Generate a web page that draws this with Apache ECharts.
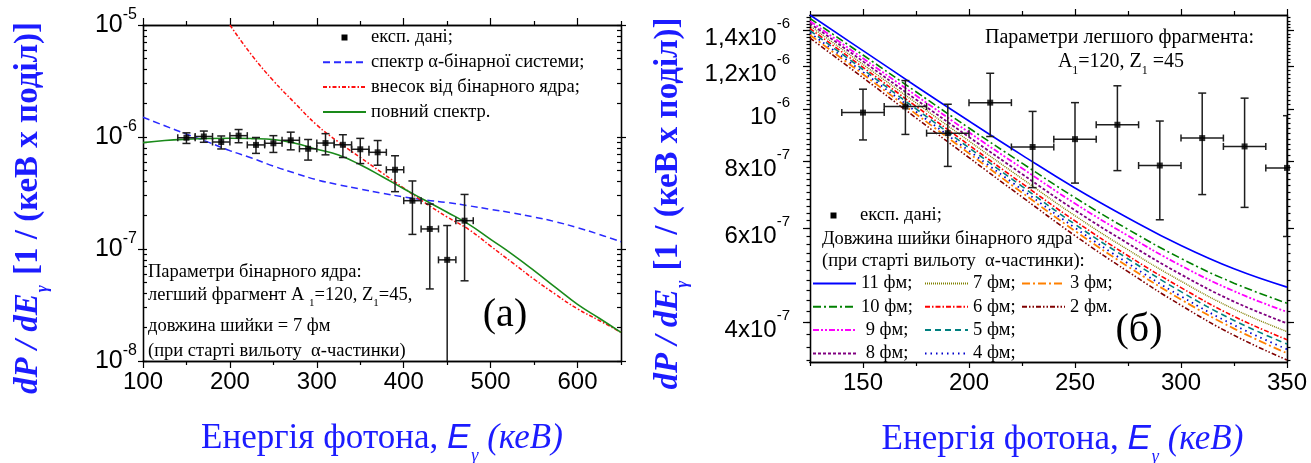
<!DOCTYPE html>
<html>
<head>
<meta charset="utf-8">
<script src="https://cdn.jsdelivr.net/npm/echarts@6/dist/echarts.min.js"></script>
<style>
  html, body { margin: 0; padding: 0; background: #fff; }
  #chart { width: 1311px; height: 463px; }
</style>
</head>
<body>
<div id="chart"></div>
<script>
// ---- measured photon spectrum (shared by both panels) ----
const expEnergy = [150, 170, 190, 210, 230, 250, 270, 290, 310, 330, 350, 370, 390, 410, 430, 450, 470];
const expValue  = [0.985e-6, 1.011e-6, 0.902e-6, 1.028e-6, 0.850e-6, 0.879e-6, 0.935e-6, 0.785e-6, 0.883e-6,
                   0.852e-6, 0.777e-6, 0.73e-6, 0.51e-6, 0.27e-6, 0.151e-6, 0.080e-6, 0.179e-6];
const expUpper  = [1.089e-6, 1.13e-6, 1.021e-6, 1.166e-6, 0.99e-6, 1.028e-6, 1.105e-6, 0.95e-6, 1.071e-6,
                   1.048e-6, 0.972e-6, 0.93e-6, 0.68e-6, 0.405e-6, 0.252e-6, 0.162e-6, 0.307e-6];
const expLower  = [0.876e-6, 0.897e-6, 0.782e-6, 0.889e-6, 0.714e-6, 0.728e-6, 0.768e-6, 0.622e-6, 0.693e-6,
                   0.656e-6, 0.579e-6, 0.56e-6, 0.325e-6, 0.135e-6, 0.044e-6, 0.001e-6, 0.052e-6];
const expHalfBin = 10;

// ---- panel (a): model curves ----
const energyA = [100, 125, 150, 175, 200, 225, 250, 275, 300, 325, 350, 375, 400, 425, 450, 475, 500, 525, 550, 575, 600, 625, 650];
const alphaSystem = [1.5e-6, 1.26e-6, 1.06e-6, 0.90e-6, 0.755e-6, 0.65e-6, 0.55e-6, 0.475e-6, 0.415e-6, 0.375e-6, 0.343e-6, 0.315e-6,
                     0.292e-6, 0.274e-6, 0.26e-6, 0.243e-6, 0.226e-6, 0.21e-6, 0.193e-6, 0.175e-6, 0.155e-6, 0.135e-6, 0.116e-6];
const binaryNucleus = [null, null, null, null, 10e-6, 5.4e-6, 3.18e-6, 2.0e-6, 1.28e-6, 0.9e-6, 0.657e-6, 0.479e-6,
                       0.35e-6, 0.257e-6, 0.193e-6, 0.149e-6, 0.106e-6, 0.0755e-6, 0.0537e-6, 0.0392e-6, 0.0292e-6, 0.023e-6, 0.018e-6];
const fullSpectrum = [0.89e-6, 0.93e-6, 0.955e-6, 0.97e-6, 0.975e-6, 0.968e-6, 0.95e-6, 0.88e-6, 0.778e-6, 0.69e-6, 0.565e-6, 0.444e-6,
                      0.345e-6, 0.271e-6, 0.213e-6, 0.166e-6, 0.122e-6, 0.0897e-6, 0.0642e-6, 0.0452e-6, 0.032e-6, 0.0241e-6, 0.018e-6];

// ---- panel (б): spectra for different neck lengths ----
const energyB = [125, 150, 175, 200, 225, 250, 275, 300, 325, 350];
const neckNames = ['11 фм;', '10 фм;', ' 9 фм;', ' 8 фм;', '7 фм;', '6 фм;', '5 фм;', '4 фм;', '3 фм;', '2 фм.'];
const neck11 = [14.97e-7, 12.85e-7, 11.03e-7, 9.50e-7, 8.21e-7, 7.13e-7, 6.27e-7, 5.57e-7, 5.04e-7, 4.66e-7];
const neck10 = [14.75e-7, 12.61e-7, 10.77e-7, 9.22e-7, 7.93e-7, 6.84e-7, 5.97e-7, 5.27e-7, 4.74e-7, 4.35e-7];
const neck9  = [14.58e-7, 12.43e-7, 10.60e-7, 9.05e-7, 7.76e-7, 6.67e-7, 5.81e-7, 5.11e-7, 4.58e-7, 4.19e-7];
const neck8  = [14.44e-7, 12.27e-7, 10.42e-7, 8.87e-7, 7.57e-7, 6.48e-7, 5.62e-7, 4.92e-7, 4.38e-7, 3.99e-7];
const neck7  = [14.28e-7, 12.11e-7, 10.27e-7, 8.72e-7, 7.42e-7, 6.33e-7, 5.47e-7, 4.78e-7, 4.24e-7, 3.85e-7];
const neck6  = [14.12e-7, 11.96e-7, 10.12e-7, 8.57e-7, 7.27e-7, 6.19e-7, 5.33e-7, 4.65e-7, 4.11e-7, 3.72e-7];
const neck5  = [14.00e-7, 11.85e-7, 10.01e-7, 8.47e-7, 7.18e-7, 6.10e-7, 5.26e-7, 4.57e-7, 4.04e-7, 3.65e-7];
const neck4  = [13.86e-7, 11.72e-7, 9.89e-7, 8.36e-7, 7.08e-7, 6.01e-7, 5.16e-7, 4.48e-7, 3.96e-7, 3.57e-7];
const neck3  = [13.74e-7, 11.61e-7, 9.79e-7, 8.27e-7, 6.99e-7, 5.93e-7, 5.09e-7, 4.42e-7, 3.90e-7, 3.51e-7];
const neck2  = [13.56e-7, 11.44e-7, 9.63e-7, 8.12e-7, 6.86e-7, 5.81e-7, 4.98e-7, 4.31e-7, 3.79e-7, 3.41e-7];
const neckCurves = [neck11, neck10, neck9, neck8, neck7, neck6, neck5, neck4, neck3, neck2];

// ---- tick positions ----
const xTicksA = [100, 200, 300, 400, 500, 600];
const xMinorA = [150, 250, 350, 450, 550, 650];
const xTicksB = [150, 200, 250, 300, 350];
const xMinorB = [125, 175, 225, 275, 325];
const yTicksA = [1e-8, 1e-7, 1e-6, 1e-5];
const yTicksB = [4e-7, 6e-7, 8e-7, 1e-6, 1.2e-6, 1.4e-6];

const yMinorA = [];
[1e-8, 1e-7, 1e-6].forEach(d => { for (let k = 2; k <= 9; k++) yMinorA.push(k * d); });
const yMinorB = [];
for (let k = 17; k <= 74; k++) yMinorB.push(k * 2e-8);

// ---- styling ----
const BLUE = '#1c1cff';
const SERIF = 'Liberation Serif';
const SANS = 'Liberation Sans';

const lineStylesB = [
  { color: '#0000ff', width: 1.6, type: 'solid' },
  { color: '#008000', width: 1.6, type: [8, 3, 2, 3] },
  { color: '#ff00ff', width: 1.8, type: [6, 2, 2, 2, 2, 2] },
  { color: '#800080', width: 1.8, type: [3, 2] },
  { color: '#808000', width: 1.4, type: [1, 1] },
  { color: '#ff0000', width: 1.6, type: [5, 2, 1.5, 2] },
  { color: '#008080', width: 1.6, type: [6, 4] },
  { color: '#0000cc', width: 1.8, type: [1.5, 4] },
  { color: '#ff8000', width: 1.8, type: [8, 3, 2, 3] },
  { color: '#800000', width: 1.6, type: [5, 2, 1.5, 2, 1.5, 2] }
];

const frameLine = { show: true, onZero: false, lineStyle: { color: '#000', width: 1.3 } };

function tickAxis(base, ticks, len, inside, extra) {
  return Object.assign({
    axisLine: frameLine,
    axisTick: { show: true, customValues: ticks, length: len, inside: inside, lineStyle: { color: '#000', width: 1.2 } },
    axisLabel: { show: false },
    splitLine: { show: false },
    minorTick: { show: false }
  }, base, extra || {});
}

const xTitle = {
  name: '{r|Енергія фотона, }{e|E}{g|γ}{ri| (кеВ)}',
  nameLocation: 'middle',
  nameGap: 60,
  nameTextStyle: {
    color: BLUE,
    rich: {
      r:  { color: BLUE, fontFamily: SERIF, fontSize: 35, verticalAlign: 'top' },
      e:  { color: BLUE, fontFamily: SANS, fontSize: 35, fontStyle: 'italic', verticalAlign: 'top' },
      g:  { color: BLUE, fontFamily: SERIF, fontSize: 18, fontStyle: 'italic', verticalAlign: 'top', padding: [26, 0, 0, 1] },
      ri: { color: BLUE, fontFamily: SERIF, fontSize: 35, fontStyle: 'italic', verticalAlign: 'top' }
    }
  }
};

function yTitle(gap) {
  return {
    name: '{i|dP / dE}{g|γ}{b| [1 / (кеВ x поділ)]}',
    nameLocation: 'middle',
    nameRotate: 90,
    nameGap: gap,
    nameTextStyle: {
      color: BLUE,
      padding: [0, 30, 0, 0],
      rich: {
        i: { color: BLUE, fontFamily: SERIF, fontSize: 33, fontWeight: 'bold', fontStyle: 'italic', verticalAlign: 'top' },
        g: { color: BLUE, fontFamily: SERIF, fontSize: 17, fontWeight: 'bold', fontStyle: 'italic', verticalAlign: 'top', padding: [22, 2, 0, 1] },
        b: { color: BLUE, fontFamily: SERIF, fontSize: 33, fontWeight: 'bold', verticalAlign: 'top' }
      }
    }
  };
}

function decadeLabel(v) {
  return '{m|10}{s|' + Math.round(Math.log10(v)) + '}';
}
function mantissaLabel(v) {
  const e = Math.floor(Math.log10(v) + 1e-9);
  const m = Math.round(v / Math.pow(10, e) * 10) / 10;
  const mant = m === 1 ? '' : String(m).replace('.', ',') + 'x';
  return '{m|' + mant + '10}{s|' + e + '}';
}

const xAxes = [
  // panel (a)
  tickAxis({ gridIndex: 0, type: 'value', position: 'bottom', min: 100, max: 650, interval: 100 }, xTicksA, 7, false,
    Object.assign({
      axisLabel: { show: true, margin: 9, color: '#000', fontFamily: SANS, fontSize: 24,
                   formatter: v => (v <= 600 && v % 100 === 0) ? String(v) : '' }
    }, xTitle)),
  tickAxis({ gridIndex: 0, type: 'value', position: 'bottom', min: 100, max: 650 }, xMinorA, 4, false),
  tickAxis({ gridIndex: 0, type: 'value', position: 'top', min: 100, max: 650 }, xTicksA, 7, false),
  tickAxis({ gridIndex: 0, type: 'value', position: 'top', min: 100, max: 650 }, xMinorA, 4, false),
  // panel (б)
  tickAxis({ gridIndex: 1, type: 'value', position: 'bottom', min: 125, max: 350, interval: 25 }, xTicksB, 6, false,
    Object.assign({
      axisLabel: { show: true, margin: 9, color: '#000', fontFamily: SANS, fontSize: 24,
                   formatter: v => (v % 50 === 0) ? String(v) : '' }
    }, xTitle, { nameTextStyle: Object.assign({}, xTitle.nameTextStyle, { padding: [0, 0, 0, 28] }) })),
  tickAxis({ gridIndex: 1, type: 'value', position: 'bottom', min: 125, max: 350 }, xMinorB, 4, false),
  tickAxis({ gridIndex: 1, type: 'value', position: 'top', min: 125, max: 350 }, xTicksB, 6, false),
  tickAxis({ gridIndex: 1, type: 'value', position: 'top', min: 125, max: 350 }, xMinorB, 4, false)
];

const yAxes = [
  // panel (a): log scale 1e-8 .. 1e-5
  tickAxis({ gridIndex: 0, type: 'log', logBase: 10, position: 'left', min: 1e-8, max: 1e-5 }, yTicksA, 5, false,
    Object.assign({
      axisLabel: {
        show: true, customValues: yTicksA, margin: 6, formatter: decadeLabel,
        rich: {
          m: { fontFamily: SANS, fontSize: 25, color: '#000', verticalAlign: 'middle' },
          s: { fontFamily: SANS, fontSize: 16, color: '#000', verticalAlign: 'top', padding: [0, 0, 21, 0] }
        }
      }
    }, yTitle(92))),
  tickAxis({ gridIndex: 0, type: 'log', logBase: 10, position: 'left', min: 1e-8, max: 1e-5 }, yTicksA.concat(yMinorA), 4, true),
  tickAxis({ gridIndex: 0, type: 'log', logBase: 10, position: 'right', min: 1e-8, max: 1e-5 }, yTicksA, 5, false),
  tickAxis({ gridIndex: 0, type: 'log', logBase: 10, position: 'right', min: 1e-8, max: 1e-5 }, yTicksA.concat(yMinorA), 4, true),
  // panel (б): log scale 3.38e-7 .. 1.497e-6
  tickAxis({ gridIndex: 1, type: 'log', logBase: 10, position: 'left', min: 3.38e-7, max: 1.497e-6 }, yTicksB, 7, false,
    Object.assign({
      axisLabel: {
        show: true, customValues: yTicksB, margin: 20, formatter: mantissaLabel,
        rich: {
          m: { fontFamily: SANS, fontSize: 24, color: '#000', verticalAlign: 'bottom' },
          s: { fontFamily: SANS, fontSize: 15, color: '#000', verticalAlign: 'top', padding: [6, 0, 19, 0] }
        }
      }
    }, yTitle(119))),
  tickAxis({ gridIndex: 1, type: 'log', logBase: 10, position: 'left', min: 3.38e-7, max: 1.497e-6 }, yMinorB, 3.5, false),
  tickAxis({ gridIndex: 1, type: 'log', logBase: 10, position: 'right', min: 3.38e-7, max: 1.497e-6 }, yTicksB, 7, false),
  tickAxis({ gridIndex: 1, type: 'log', logBase: 10, position: 'right', min: 3.38e-7, max: 1.497e-6 }, yMinorB, 3.5, false)
];

// ---- series builders ----
const expPoints = expEnergy.map((e, i) => [e, expValue[i]]);
const expRows = expEnergy.map((e, i) => [e, expValue[i], expLower[i], expUpper[i], expHalfBin]);

function renderErrorBar(params, api) {
  const e = api.value(0), v = api.value(1), lo = api.value(2), hi = api.value(3), dx = api.value(4);
  const top = api.coord([e, hi]);
  const bot = api.coord([e, lo]);
  const l = api.coord([e - dx, v]);
  const r = api.coord([e + dx, v]);
  const cw = 4, ch = 3.5;
  const st = { stroke: '#1e1e1e', lineWidth: 1.5 };
  const seg = (x1, y1, x2, y2) => ({ type: 'line', shape: { x1, y1, x2, y2 }, style: st });
  return {
    type: 'group',
    children: [
      seg(top[0], top[1], bot[0], bot[1]),
      seg(top[0] - cw, top[1], top[0] + cw, top[1]),
      seg(bot[0] - cw, bot[1], bot[0] + cw, bot[1]),
      seg(l[0], l[1], r[0], r[1]),
      seg(l[0], l[1] - ch, l[0], l[1] + ch),
      seg(r[0], r[1] - ch, r[0], r[1] + ch)
    ]
  };
}

function expSeries(xi, yi) {
  return [
    { type: 'custom', xAxisIndex: xi, yAxisIndex: yi, data: expRows, renderItem: renderErrorBar,
      encode: { x: 0, y: 1 }, clip: true, silent: true, z: 4 },
    { name: 'експ. дані;', type: 'scatter', xAxisIndex: xi, yAxisIndex: yi, data: expPoints,
      symbol: 'rect', symbolSize: 6, itemStyle: { color: '#000' }, clip: true, silent: true, z: 5 }
  ];
}

function curve(name, xs, ys, style, xi, yi) {
  return {
    name: name, type: 'line', xAxisIndex: xi, yAxisIndex: yi,
    data: xs.map((x, i) => [x, ys[i]]),
    symbol: 'none', smooth: 0.45, connectNulls: false, clip: true, silent: true, z: 2,
    lineStyle: style, itemStyle: { color: style.color }
  };
}

const series = [
  curve('спектр α-бінарної системи;', energyA, alphaSystem, { color: '#2a2aff', width: 1.5, type: [7, 4] }, 0, 0),
  curve('внесок від бінарного ядра;', energyA, binaryNucleus, { color: '#ff1010', width: 1.5, type: [4, 2, 1.5, 2] }, 0, 0),
  curve('повний спектр.', energyA, fullSpectrum, { color: '#1a8a1a', width: 1.6, type: 'solid' }, 0, 0)
].concat(expSeries(0, 0));

neckCurves.forEach((ys, k) => {
  series.push(curve(neckNames[k], energyB, ys, lineStylesB[k], 4, 4));
});
series.push.apply(series, expSeries(4, 4));

// ---- legends ----
const squareIcon = 'path://M0,0M43,14M18.5,4h6v6h-6z';
const legendText = { fontFamily: SERIF, fontSize: 18.5, color: '#000', lineHeight: 18 };
function legend(left, top, gap, data) {
  return {
    left: left, top: top, orient: 'vertical', padding: 0, itemGap: gap,
    itemWidth: 43, itemHeight: 14, selectedMode: false, textStyle: legendText,
    data: data
  };
}
const lineItem = name => ({ name: name, itemStyle: { opacity: 0 } });

const legends = [
  legend(322, 28, 5.8, [
    { name: 'експ. дані;', icon: squareIcon, itemStyle: { color: '#000', opacity: 1 } },
    lineItem('спектр α-бінарної системи;'),
    lineItem('внесок від бінарного ядра;'),
    lineItem('повний спектр.')
  ]),
  legend(812, 206, 4.3, [{ name: 'експ. дані;', icon: squareIcon, itemStyle: { color: '#000', opacity: 1 } }]),
  legend(812, 274, 4.3, neckNames.slice(0, 4).map(lineItem)),
  legend(924, 274, 4.3, neckNames.slice(4, 8).map(lineItem)),
  legend(1021, 274, 4.3, neckNames.slice(8).map(lineItem))
];

// ---- annotations ----
const subRich = (size, pad) => ({
  n: { fontFamily: SERIF, fontSize: size, color: '#000', verticalAlign: 'top' },
  s: { fontFamily: SERIF, fontSize: Math.round(size * 0.6), color: '#000', verticalAlign: 'top', padding: [pad, 0, 0, 0] }
});
function note(x, y, text, size, align, rich) {
  const style = { text: text, fill: '#000', font: size + 'px "' + SERIF + '"', align: align || 'left', verticalAlign: 'middle' };
  if (rich) style.rich = rich;
  return { type: 'text', x: x, y: y, silent: true, z: 10, style: style };
}

const graphics = [
  note(148, 272.5, 'Параметри бінарного ядра:', 18.5),
  note(148, 297, '{n|легший фрагмент A }{s|1}{n|=120, Z}{s|1}{n|=45,}', 18.5, 'left', subRich(18.5, 12)),
  note(148, 326, 'довжина шийки = 7 фм', 18.5),
  note(148, 351, '(при старті вильоту  α-частинки)', 18.5),
  note(505, 315, '(a)', 40, 'center'),
  note(985, 38, 'Параметри легшого фрагмента:', 20),
  note(1121, 64, '{n|A}{s|1}{n|=120, Z}{s|1}{n| =45}', 20, 'center', subRich(20, 13)),
  note(822, 239, 'Довжина шийки бінарного ядра', 18.5),
  note(822, 261, '(при старті вильоту  α-частинки):', 18.5),
  note(1139, 330, '(б)', 40, 'center')
];

const chart = echarts.init(document.getElementById('chart'), null, { renderer: 'canvas' });
chart.setOption({
  animation: false,
  backgroundColor: '#fff',
  grid: [
    { left: 143, top: 25, width: 478, height: 336, containLabel: false, outerBoundsMode: 'none' },
    { left: 810, top: 15, width: 477, height: 347, containLabel: false, outerBoundsMode: 'none' }
  ],
  xAxis: xAxes,
  yAxis: yAxes,
  legend: legends,
  series: series,
  graphic: graphics
});
</script>
</body>
</html>
